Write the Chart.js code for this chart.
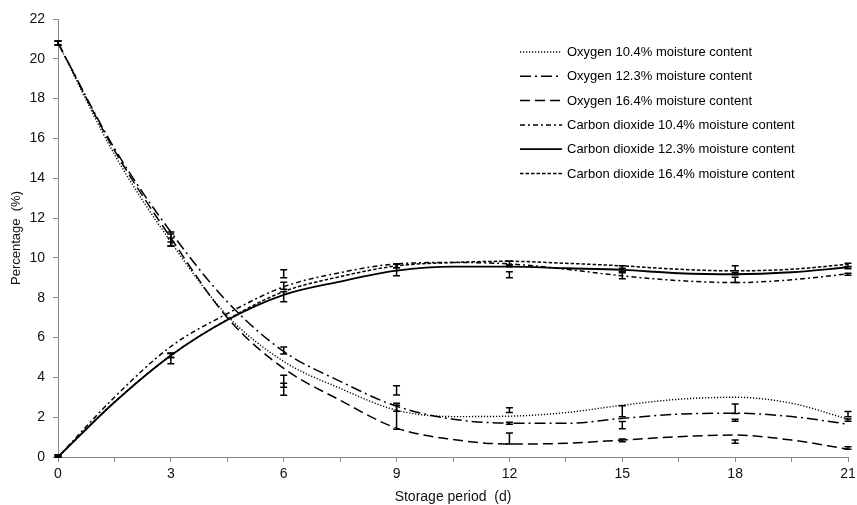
<!DOCTYPE html>
<html>
<head>
<meta charset="utf-8">
<script src="https://cdn.jsdelivr.net/npm/chart.js@4/dist/chart.umd.min.js"></script>
<style>
  html, body { margin: 0; padding: 0; background: #fff; overflow: hidden; }
  #box { width: 857px; height: 506px; }
</style>
</head>
<body>
<div id="box"><canvas id="grafico"></canvas></div>
<script>
// days
const dias = [0, 1.5, 3, 4.5, 6, 7.5, 9, 10.5, 12, 13.5, 15, 16.5, 18, 19.5, 21];

const o2_104 = [20.8, 15.2, 10.8, 7.1, 4.8, 3.45, 2.35, 2.03, 2.05, 2.23, 2.6, 2.9, 3.0, 2.7, 1.9];
const o2_123 = [20.8, 15.5, 11.3, 7.8, 5.3, 3.8, 2.55, 1.9, 1.7, 1.69, 1.94, 2.15, 2.2, 2.03, 1.65];
const o2_164 = [20.8, 15.4, 11.0, 7.0, 4.45, 2.85, 1.45, 0.88, 0.65, 0.69, 0.85, 1.02, 1.1, 0.85, 0.39];
const co2_104 = [0, 3.0, 5.55, 7.2, 8.55, 9.26, 9.7, 9.77, 9.7, 9.43, 9.1, 8.86, 8.76, 8.9, 9.2];
const co2_123 = [0, 2.75, 5.1, 6.88, 8.14, 8.81, 9.36, 9.56, 9.56, 9.48, 9.4, 9.23, 9.18, 9.28, 9.53];
const co2_164 = [0, 2.75, 5.1, 6.9, 8.31, 9.06, 9.6, 9.77, 9.83, 9.73, 9.6, 9.43, 9.35, 9.43, 9.68];

// measured means and standard deviations (error bars)
const diasMedidos = [0, 3, 6, 9, 12, 15, 18, 21];
const o2_104_med = [20.8, 10.95, 3.8, 3.35, 2.35, 2.3, 2.42, 2.15];
const o2_104_dp = [0.1, 0.35, 0.3, 0.23, 0.12, 0.28, 0.24, 0.13];
const o2_123_med = [20.8, 11.0, 5.35, 2.5, 1.7, 1.6, 1.85, 1.85];
const o2_123_dp = [0.1, 0.2, 0.18, 0.2, 0.05, 0.18, 0.05, 0.06];
const o2_164_med = [20.8, 10.8, 3.4, 2.0, 0.93, 0.83, 0.77, 0.45];
const o2_164_dp = [0.1, 0.2, 0.3, 0.6, 0.28, 0.07, 0.08, 0.06];
const co2_104_med = [0.05, 5.1, 9.2, 9.6, 9.15, 9.1, 8.9, 9.18];
const co2_104_dp = [0.05, 0.1, 0.2, 0.1, 0.15, 0.15, 0.13, 0.05];
const co2_123_med = [0.05, 4.95, 8.05, 9.4, 9.6, 9.4, 9.2, 9.5];
const co2_123_dp = [0.05, 0.27, 0.25, 0.3, 0.05, 0.08, 0.05, 0.05];
const co2_164_med = [0.05, 5.1, 8.6, 9.6, 9.75, 9.45, 9.48, 9.65];
const co2_164_dp = [0.05, 0.1, 0.18, 0.1, 0.1, 0.15, 0.12, 0.08];

const nomes = [
  "Oxygen 10.4% moisture content",
  "Oxygen 12.3% moisture content",
  "Oxygen 16.4% moisture content",
  "Carbon dioxide 10.4% moisture content",
  "Carbon dioxide 12.3% moisture content",
  "Carbon dioxide 16.4% moisture content"
];

const series = [o2_104, o2_123, o2_164, co2_104, co2_123, co2_164];
const medias = [o2_104_med, o2_123_med, o2_164_med, co2_104_med, co2_123_med, co2_164_med];
const desvios = [o2_104_dp, o2_123_dp, o2_164_dp, co2_104_dp, co2_123_dp, co2_164_dp];

const tracos = [[1.2, 1.8], [11, 4, 2, 4], [10, 5], [5, 3, 2, 3], [], [3.5, 2]];
const larguras = [1.4, 1.5, 1.5, 1.5, 1.8, 1.5];

const fonte = "'Liberation Sans', Arial, sans-serif";
const cinza = "#888";

const datasets = series.map((valores, i) => ({
  label: nomes[i],
  data: dias.map((d, j) => ({ x: d, y: valores[j] })),
  showLine: true,
  borderColor: "#000",
  borderWidth: larguras[i],
  borderDash: tracos[i],
  pointRadius: 0,
  cubicInterpolationMode: "monotone",
  fill: false
}));

// error bars drawn through the scales
const barrasErro = {
  id: "barrasErro",
  afterDatasetsDraw(chart) {
    const ctx = chart.ctx;
    const sx = chart.scales.x;
    const sy = chart.scales.y;
    ctx.save();
    ctx.strokeStyle = "#000";
    ctx.lineWidth = 1.5;
    ctx.setLineDash([]);
    medias.forEach((med, i) => {
      med.forEach((m, j) => {
        const px = sx.getPixelForValue(diasMedidos[j]);
        const y1 = sy.getPixelForValue(m - desvios[i][j]);
        const y2 = sy.getPixelForValue(m + desvios[i][j]);
        ctx.beginPath();
        ctx.moveTo(px, y1);
        ctx.lineTo(px, y2);
        ctx.moveTo(px - 3.5, y1);
        ctx.lineTo(px + 3.5, y1);
        ctx.moveTo(px - 3.5, y2);
        ctx.lineTo(px + 3.5, y2);
        ctx.stroke();
      });
    });
    ctx.restore();
  }
};

// legend with dash samples
const legenda = {
  id: "legenda",
  afterDraw(chart) {
    const ctx = chart.ctx;
    ctx.save();
    ctx.font = "13px " + fonte;
    ctx.fillStyle = "#000";
    ctx.textBaseline = "middle";
    nomes.forEach((nome, i) => {
      const y = 52 + i * 24.3;
      ctx.strokeStyle = "#000";
      ctx.lineWidth = larguras[i];
      ctx.setLineDash(tracos[i]);
      ctx.beginPath();
      ctx.moveTo(520, y);
      ctx.lineTo(562, y);
      ctx.stroke();
      ctx.setLineDash([]);
      ctx.fillText(nome, 567, y + 0.5);
    });
    ctx.restore();
  }
};

new Chart(document.getElementById("grafico"), {
  type: "scatter",
  data: { datasets },
  options: {
    responsive: true,
    maintainAspectRatio: false,
    animation: false,
    layout: { padding: { top: 19, right: 9, left: 0, bottom: 0 } },
    plugins: {
      legend: { display: false },
      tooltip: { enabled: false }
    },
    scales: {
      x: {
        type: "linear",
        min: 0,
        max: 21,
        afterFit: s => {
          s.height = 49;
          s.paddingLeft = 0;
          s.paddingRight = 0;
        },
        ticks: {
          stepSize: 1.5,
          autoSkip: false,
          maxRotation: 0,
          padding: 4,
          color: "#111",
          font: { family: fonte, size: 14 },
          callback: v => (v % 3 === 0 ? v : "")
        },
        grid: { drawOnChartArea: false, drawTicks: true, tickLength: 5, color: cinza },
        border: { color: cinza, width: 1 },
        title: {
          display: true,
          text: "Storage period  (d)",
          color: "#111",
          font: { family: fonte, size: 14 },
          padding: { top: 0, bottom: 0 }
        }
      },
      y: {
        min: 0,
        max: 22,
        afterFit: s => { s.width = 58; },
        ticks: {
          stepSize: 2,
          padding: 8,
          color: "#111",
          font: { family: fonte, size: 14 }
        },
        grid: { drawOnChartArea: false, drawTicks: true, tickLength: 5, color: cinza },
        border: { color: cinza, width: 1 },
        title: {
          display: true,
          text: "Percentage  (%)",
          color: "#111",
          font: { family: fonte, size: 13 },
          padding: { top: 9, bottom: 0 }
        }
      }
    }
  },
  plugins: [barrasErro, legenda]
});
</script>
</body>
</html>
